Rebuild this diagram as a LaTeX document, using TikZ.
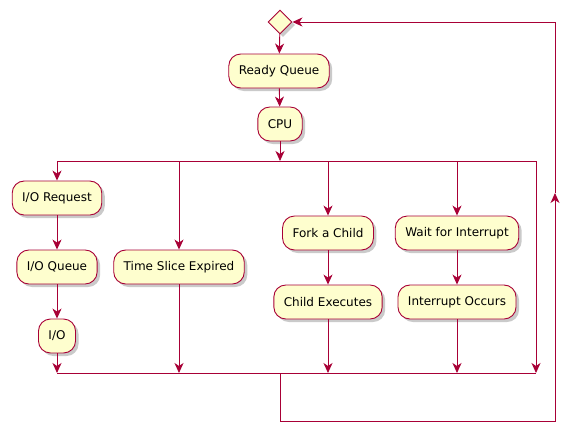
\documentclass[tikz,border=0pt]{standalone}
\usepackage{fontspec}
\setmainfont{DejaVu Sans}
\usetikzlibrary{shapes.geometric,arrows.meta,shadows,positioning}

\definecolor{umlline}{HTML}{A80036}
\definecolor{umlfill}{HTML}{FEFECE}

\begin{document}
\begin{tikzpicture}[
    x=1pt, y=-1pt,
    activity/.style={rectangle, draw=umlline, fill=umlfill, line width=0.9pt, rounded corners=12pt, minimum height=34pt, inner xsep=10pt, font=\fontsize{12}{14}\selectfont, drop shadow={shadow xshift=3pt, shadow yshift=-3pt, opacity=0.35, fill=black!60}},
    merge/.style={diamond, aspect=1, draw=umlline, fill=umlfill, line width=0.9pt, minimum width=24pt, minimum height=24pt, inner sep=0pt, drop shadow={shadow xshift=3pt, shadow yshift=-3pt, opacity=0.35, fill=black!60}},
    flow/.style={draw=umlline, line width=0.9pt, -{Stealth[length=10pt, width=9pt, inset=3pt]}},
    bar/.style={draw=umlline, line width=0.9pt}
]
\useasboundingbox (0,0) rectangle (578,434);

% start and the two first steps
\node[merge] (start) at (280,22) {};
\node[activity] (ready) at (279,71) {Ready Queue};
\node[activity] (cpu) at (280,124) {CPU};

% fork and join bars
\coordinate (forkL) at (57,161);
\coordinate (forkR) at (536,161);
\coordinate (joinL) at (57,373);
\coordinate (joinR) at (536,373);
\coordinate (joinM) at (280,373);

% branches
\node[activity] (ioreq) at (57,198) {I/O Request};
\node[activity] (ioqueue) at (57,267) {I/O Queue};
\node[activity] (io) at (57,336) {I/O};
\node[activity] (slice) at (179,267) {Time Slice Expired};
\node[activity] (fork) at (328,233) {Fork a Child};
\node[activity] (child) at (328,302) {Child Executes};
\node[activity] (wait) at (457,233) {Wait for Interrupt};
\node[activity] (irq) at (457,302) {Interrupt Occurs};

% loop back
\coordinate (loopB) at (555,421);
\coordinate (loopUp) at (555,193);

\draw[flow] (start) -- (ready);
\draw[flow] (ready) -- (cpu);
\draw[flow] (cpu) -- (cpu |- forkL);
\draw[bar] (forkL) -- (forkR);
\draw[bar] (joinL) -- (joinR);

\draw[flow] (forkL) -- (ioreq);
\draw[flow] (ioreq) -- (ioqueue);
\draw[flow] (ioqueue) -- (io);
\draw[flow] (io) -- (joinL);

\draw[flow] (slice |- forkL) -- (slice);
\draw[flow] (slice) -- (slice |- joinL);

\draw[flow] (fork |- forkL) -- (fork);
\draw[flow] (fork) -- (child);
\draw[flow] (child) -- (child |- joinL);

\draw[flow] (wait |- forkL) -- (wait);
\draw[flow] (wait) -- (irq);
\draw[flow] (irq) -- (irq |- joinL);

\draw[flow] (forkR) -- (joinR);

\draw[flow] (joinM) |- (loopB) -- (loopUp);
\draw[flow] (loopUp) |- (start);

\end{tikzpicture}
\end{document}
